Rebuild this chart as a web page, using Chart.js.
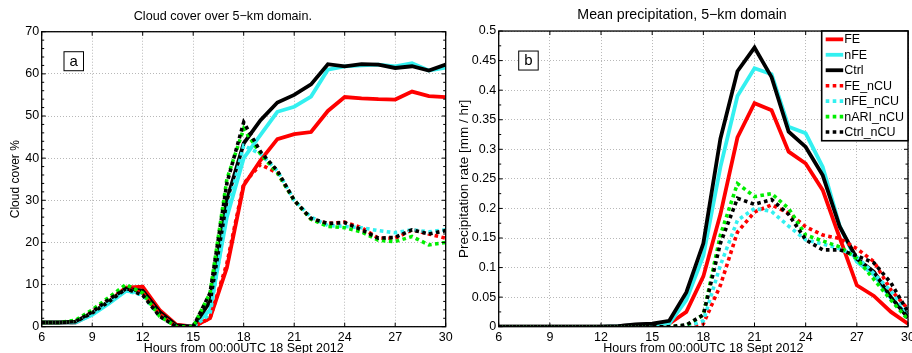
<!DOCTYPE html>
<html>
<head>
<meta charset="utf-8">
<script src="https://cdn.jsdelivr.net/npm/chart.js@4.4.1/dist/chart.umd.min.js"></script>
<style>
html, body { margin: 0; padding: 0; background: #fff; overflow: hidden; width: 912px; height: 353px; }
.panel { position: absolute; top: 0; }
#leftBox { left: 0; width: 460px; height: 360px; }
#rightBox { left: 456px; width: 470px; height: 360px; }
</style>
</head>
<body>
<div id="leftBox" class="panel"><canvas id="cloudChart"></canvas></div>
<div id="rightBox" class="panel"><canvas id="precipChart"></canvas></div>
<script>
// hours after 00:00 UTC, 18 Sept 2012
const hours = [6, 7, 8, 9, 10, 11, 12, 13, 14, 15, 16, 17, 18, 19, 20, 21, 22, 23, 24, 25, 26, 27, 28, 29, 30];
const hourTicks = [6, 9, 12, 15, 18, 21, 24, 27, 30];
const cloudTicks = [0, 10, 20, 30, 40, 50, 60, 70];
const precipTicks = [0, 0.05, 0.1, 0.15, 0.2, 0.25, 0.3, 0.35, 0.4, 0.45, 0.5];

const seriesNames = ['FE', 'nFE', 'Ctrl', 'FE_nCU', 'nFE_nCU', 'nARI_nCU', 'Ctrl_nCU'];

// panel a: cloud cover (%)
const cloudFE      = [1, 1, 1, 3, 6, 9.3, 9.5, 4, 0.5, 0, 2, 14, 33.5, 39.5, 44.5, 45.7, 46.2, 51.2, 54.5, 54.2, 54, 53.9, 55.8, 54.7, 54.5];
const cloudNFE     = [1, 1, 1, 2.8, 5.5, 8.5, 8, 3, 0.2, 0, 4, 26, 40, 45.5, 51, 52.2, 54.6, 61, 61.8, 62, 62.2, 61.8, 62.5, 60.8, 61.5];
const cloudCtrl    = [1, 1, 1.2, 3.3, 6, 9, 8.5, 3.5, 0.3, 0, 6, 30, 43.5, 49, 53.2, 55, 57.5, 62.3, 61.8, 62.3, 62.2, 61.4, 61.8, 60.8, 62.2];
const cloudFEnCU   = [1, 1, 1, 3.5, 6.5, 9, 8, 3, 0, 0, 2, 15, 34, 38.5, 36.5, 30, 25.5, 24.5, 24.8, 23.5, 21, 21, 23, 22, 21];
const cloudNFEnCU  = [1, 1, 1, 3, 6, 8.5, 7.5, 2.5, 0, 0, 3, 27, 43, 41, 37, 30, 26, 24, 23.8, 23.5, 22.8, 22.3, 23, 22.5, 23];
const cloudNARInCU = [1, 1, 1.5, 4, 7, 10, 8, 2.5, 0, 0, 8, 35, 47, 41, 36.5, 30, 25.5, 23.8, 23.5, 22.5, 20.5, 20.2, 21.4, 19.4, 20];
const cloudCtrlnCU = [1, 1, 1.2, 3.5, 6.5, 9, 7.5, 2.5, 0, 0, 8, 34, 48.5, 41.5, 37, 30, 25.7, 24.5, 24.7, 23, 21, 21.2, 23, 22, 22.8];

// panel b: mean precipitation (mm/hr)
const precipFE      = [0, 0, 0, 0, 0, 0, 0, 0.001, 0.003, 0.004, 0.005, 0.025, 0.085, 0.19, 0.32, 0.378, 0.366, 0.296, 0.276, 0.231, 0.15, 0.07, 0.052, 0.025, 0.005];
const precipNFE     = [0, 0, 0, 0, 0, 0, 0, 0.001, 0.003, 0.004, 0.005, 0.045, 0.12, 0.27, 0.39, 0.437, 0.427, 0.338, 0.327, 0.27, 0.17, 0.11, 0.088, 0.048, 0.02];
const precipCtrl    = [0, 0, 0, 0, 0, 0, 0, 0.001, 0.004, 0.005, 0.01, 0.058, 0.141, 0.318, 0.432, 0.472, 0.422, 0.33, 0.304, 0.256, 0.169, 0.115, 0.093, 0.05, 0.015];
const precipFEnCU   = [0, 0, 0, 0, 0, 0, 0, 0, 0, 0, 0, 0, 0.005, 0.07, 0.16, 0.194, 0.206, 0.192, 0.169, 0.155, 0.149, 0.132, 0.11, 0.062, 0.03];
const precipNFEnCU  = [0, 0, 0, 0, 0, 0, 0, 0, 0, 0, 0, 0, 0.01, 0.104, 0.18, 0.2, 0.195, 0.17, 0.147, 0.14, 0.132, 0.118, 0.09, 0.06, 0.022];
const precipNARInCU = [0, 0, 0, 0, 0, 0, 0, 0, 0, 0, 0, 0.002, 0.02, 0.155, 0.242, 0.22, 0.225, 0.2, 0.155, 0.145, 0.135, 0.115, 0.08, 0.045, 0.012];
const precipCtrlnCU = [0, 0, 0, 0, 0, 0, 0, 0, 0, 0, 0, 0.003, 0.02, 0.141, 0.217, 0.207, 0.215, 0.19, 0.147, 0.13, 0.13, 0.12, 0.108, 0.074, 0.025];

const FONT = '"Liberation Sans", Arial, Helvetica, sans-serif';
const colors = ['#ff0000', '#33f0f0', '#000000', '#ff0000', '#33f0f0', '#00ee00', '#000000'];

function makeDatasets(seriesValues) {
    return seriesValues.map((vals, i) => {
        const dotted = seriesNames[i].indexOf('_nCU') > 0;
        return {
            label: seriesNames[i],
            data: hours.map((h, k) => ({ x: h, y: vals[k] })),
            borderColor: colors[i],
            borderWidth: dotted ? 3.6 : 3.8,
            borderDash: dotted ? [3.6, 3.4] : [],
            borderCapStyle: 'butt',
            borderJoinStyle: 'miter',
            pointRadius: 0,
            tension: 0,
            fill: false,
            order: seriesNames.length - i
        };
    });
}

// box, inward tick marks, panel letter and (optionally) legend
const matlabFrame = {
    id: 'matlabFrame',
    afterDraw(chart, args, opts) {
        const ctx = chart.ctx;
        const a = chart.chartArea;
        const xs = chart.scales.x, ys = chart.scales.y;
        ctx.save();
        ctx.strokeStyle = '#000';
        ctx.lineWidth = 1.3;
        ctx.setLineDash([]);
        ctx.strokeRect(a.left, a.top, a.right - a.left, a.bottom - a.top);

        ctx.lineWidth = 1;
        ctx.beginPath();
        hourTicks.forEach(v => {
            const px = xs.getPixelForValue(v);
            ctx.moveTo(px, a.bottom); ctx.lineTo(px, a.bottom - 4);
            ctx.moveTo(px, a.top); ctx.lineTo(px, a.top + 4);
        });
        const yMin = ys.min, yMax = ys.max;
        const n = Math.round((yMax - yMin) / opts.minorStep);
        for (let k = 0; k <= n; k++) {
            const v = yMin + k * opts.minorStep;
            const py = ys.getPixelForValue(v);
            const len = (k % opts.minorPerMajor === 0) ? 4 : 2.5;
            ctx.moveTo(a.left, py); ctx.lineTo(a.left + len, py);
            ctx.moveTo(a.right, py); ctx.lineTo(a.right - len, py);
        }
        ctx.stroke();

        // panel letter
        const bx = a.left + opts.letterX, by = a.top + 20;
        ctx.fillStyle = '#fff';
        ctx.fillRect(bx, by, 19.5, 19);
        ctx.strokeRect(bx, by, 19.5, 19);
        ctx.fillStyle = '#000';
        ctx.font = '15px ' + FONT;
        ctx.textAlign = 'center';
        ctx.textBaseline = 'middle';
        ctx.fillText(opts.letter, bx + 9.75, by + 10);

        if (opts.legend) {
            const w = 86.3, h = 109.7;
            const lx = a.right - w, ly = a.top;
            ctx.fillStyle = '#fff';
            ctx.fillRect(lx, ly, w, h);
            ctx.lineWidth = 1.6;
            ctx.strokeRect(lx, ly, w, h);
            ctx.font = '12.5px ' + FONT;
            ctx.textAlign = 'left';
            chart.data.datasets.forEach((ds, i) => {
                const ry = ly + 8.3 + i * 15.45;
                ctx.strokeStyle = ds.borderColor;
                ctx.lineWidth = ds.borderWidth;
                ctx.lineCap = 'butt';
                ctx.setLineDash(ds.borderDash);
                ctx.beginPath();
                ctx.moveTo(lx + 4, ry); ctx.lineTo(lx + 21.5, ry);
                ctx.stroke();
                ctx.setLineDash([]);
                ctx.fillStyle = '#000';
                ctx.fillText(ds.label, lx + 22.5, ry + 0.5);
            });
        }
        ctx.restore();
    }
};

function makeChart(canvasId, cfg) {
    return new Chart(document.getElementById(canvasId), {
        type: 'line',
        data: { datasets: makeDatasets(cfg.series) },
        plugins: [matlabFrame],
        options: {
            responsive: true,
            maintainAspectRatio: false,
            animation: false,
            layout: { padding: { left: 0, right: cfg.rightPad, top: 0, bottom: 0 } },
            plugins: {
                legend: { display: false },
                tooltip: { enabled: false },
                title: {
                    display: true,
                    text: cfg.title,
                    color: '#000',
                    font: { family: FONT, size: cfg.titleSize, weight: 'normal' },
                    padding: { top: cfg.titleTop, bottom: cfg.titleBottom }
                },
                matlabFrame: cfg.frame
            },
            scales: {
                x: {
                    type: 'linear',
                    min: 6,
                    max: 30,
                    afterBuildTicks: s => { s.ticks = hourTicks.map(v => ({ value: v })); },
                    afterFit: s => { s.height = 360 - cfg.bottomPx; },
                    grid: { color: '#b8b8b8', lineWidth: 1, drawTicks: false },
                    border: { display: false, dash: [1, 2] },
                    ticks: { color: '#000', font: { family: FONT, size: 12.5 }, padding: 3.5, maxRotation: 0, autoSkip: false },
                    title: {
                        display: true,
                        text: 'Hours from 00:00UTC 18 Sept 2012',
                        color: '#000',
                        font: { family: FONT, size: 12.5 },
                        padding: { top: 0, bottom: 4 }
                    }
                },
                y: {
                    min: cfg.yTicks[0],
                    max: cfg.yTicks[cfg.yTicks.length - 1],
                    afterBuildTicks: s => { s.ticks = cfg.yTicks.map(v => ({ value: v })); },
                    afterFit: s => { s.width = cfg.leftPx; },
                    grid: { color: '#b8b8b8', lineWidth: 1, drawTicks: false },
                    border: { display: false, dash: [1, 2] },
                    ticks: {
                        color: '#000',
                        font: { family: FONT, size: 12.5 },
                        padding: 2.5,
                        autoSkip: false,
                        callback: v => String(+Number(v).toFixed(3))
                    },
                    title: {
                        display: true,
                        text: cfg.yTitle,
                        color: '#000',
                        font: { family: FONT, size: cfg.yTitleSize },
                        padding: { top: cfg.yTitlePad, bottom: 0 }
                    }
                }
            }
        }
    });
}

makeChart('cloudChart', {
    series: [cloudFE, cloudNFE, cloudCtrl, cloudFEnCU, cloudNFEnCU, cloudNARInCU, cloudCtrlnCU],
    title: 'Cloud cover over 5\u2212km domain.',
    titleSize: 12.6,
    titleTop: 8.6,
    titleBottom: 8,
    yTitle: 'Cloud cover %',
    yTitleSize: 12,
    yTitlePad: 8.8,
    yTicks: cloudTicks,
    leftPx: 41.7,
    bottomPx: 326.7,
    rightPad: 14.3,
    frame: { letter: 'a', letterX: 22.3, minorStep: 2, minorPerMajor: 5, legend: false }
});

makeChart('precipChart', {
    series: [precipFE, precipNFE, precipCtrl, precipFEnCU, precipNFEnCU, precipNARInCU, precipCtrlnCU],
    title: 'Mean precipitation, 5\u2212km domain',
    titleSize: 14.2,
    titleTop: 6.5,
    titleBottom: 7.5,
    yTitle: 'Precipitation rate [mm / hr]',
    yTitleSize: 13.5,
    yTitlePad: 0,
    yTicks: precipTicks,
    leftPx: 42.7,
    bottomPx: 326.7,
    rightPad: 18,
    frame: { letter: 'b', letterX: 20, minorStep: 0.025, minorPerMajor: 2, legend: true }
});
</script>
</body>
</html>
